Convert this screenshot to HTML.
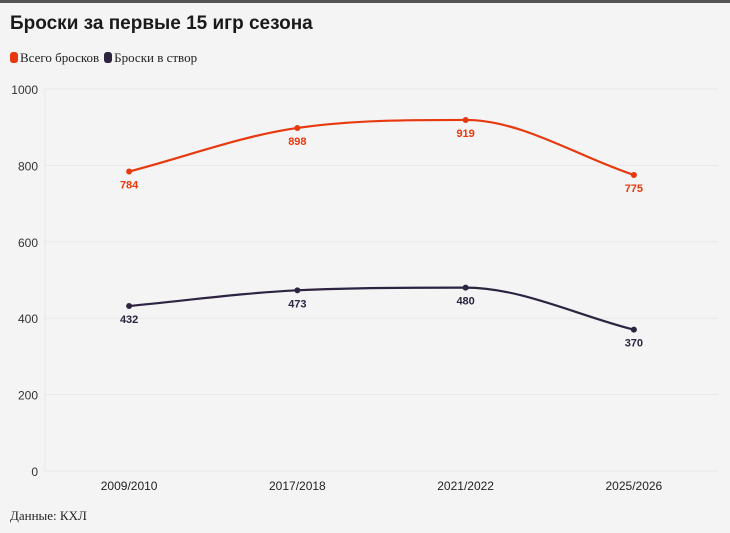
<!DOCTYPE html>
<html><head><meta charset="utf-8"><style>
body{margin:0;background:#f4f4f4;width:730px;height:533px;overflow:hidden;font-family:"Liberation Sans",sans-serif}
#topbar{position:absolute;left:0;top:0;width:730px;height:3px;background:#555}
#title{position:absolute;left:10px;top:13px;font-size:19px;font-weight:bold;color:#1a1a1a}
#legend{position:absolute;left:10px;top:50px;font-family:"Liberation Serif",serif;font-size:13px;color:#222;display:flex;gap:5px}
.sw{display:inline-block;width:8px;height:11px;border-radius:3px;vertical-align:-1px;margin-right:2px}
#source{position:absolute;left:10px;top:508px;font-family:"Liberation Serif",serif;font-size:13px;color:#222}
svg{position:absolute;left:0;top:0}
</style></head><body>
<div id="topbar"></div>
<div id="title">Броски за первые 15 игр сезона</div>
<div id="legend">
<span><span class="sw" style="background:#e8380d"></span>Всего бросков</span>
<span><span class="sw" style="background:#2c2440"></span>Броски в створ</span>
</div>
<div id="source">Данные: КХЛ</div>
<svg id="chart" width="730" height="533"></svg>
<script>
const categories=["2009/2010","2017/2018","2021/2022","2025/2026"];
const totalShots=[784,898,919,775];
const onTarget=[432,473,480,370];
const yTicks=[0,200,400,600,800,1000];
const NS="http://www.w3.org/2000/svg";
const svg=document.getElementById('chart');
const L=45,R=718,T=89,B=471;
const x=i=>L+(R-L)/categories.length*(i+0.5);
const y=v=>B-(B-T)*v/1000;
function mk(t,a,p){const e=document.createElementNS(NS,t);for(const k in a)e.setAttribute(k,a[k]);(p||svg).appendChild(e);return e;}
yTicks.forEach(t=>{
 const g=mk('line',{x1:L,x2:R,y1:y(t),y2:y(t),stroke:'#e8e8e8','stroke-width':1});
 
 
 const tx=mk('text',{x:38,y:y(t)+5,'text-anchor':'end','font-size':12,fill:'#333'});tx.textContent=t;
 
 
});
const ax=mk('line',{x1:L,x2:L,y1:T,y2:B,stroke:'#e8e8e8'});


categories.forEach((c,i)=>{
 const tx=mk('text',{x:x(i),y:490,'text-anchor':'middle','font-size':12,fill:'#222'});tx.textContent=c;
 
 
});
function monotone(pts){
 const n=pts.length,d=[],m=[];
 for(let i=0;i<n-1;i++)d.push((pts[i+1][1]-pts[i][1])/(pts[i+1][0]-pts[i][0]));
 for(let i=0;i<n;i++){
  if(i==0)m.push(d[0]);else if(i==n-1)m.push(d[n-2]);
  else m.push(d[i-1]*d[i]<=0?0:(d[i-1]+d[i])/2);
 }
 for(let i=0;i<n-1;i++){if(d[i]===0){m[i]=m[i+1]=0;continue;}const a=m[i]/d[i],b=m[i+1]/d[i],s=a*a+b*b;if(s>9){const t=3/Math.sqrt(s);m[i]=t*a*d[i];m[i+1]=t*b*d[i];}}
 let p='M'+pts[0][0]+','+pts[0][1];
 for(let i=0;i<n-1;i++){const h=(pts[i+1][0]-pts[i][0])/3;
  p+=`C${pts[i][0]+h},${pts[i][1]+m[i]*h} ${pts[i+1][0]-h},${pts[i+1][1]-m[i+1]*h} ${pts[i+1][0]},${pts[i+1][1]}`;}
 return p;
}
function series(vals,color,name){
 const pts=vals.map((v,i)=>[x(i),y(v)]);
 const p=mk('path',{d:monotone(pts),fill:'none',stroke:color,'stroke-width':2.2});
 
 
 vals.forEach((v,i)=>{
  const c=mk('circle',{cx:x(i),cy:y(v),r:3,fill:color});
  
  
  const t=mk('text',{x:x(i),y:y(v)+17,'text-anchor':'middle','font-size':11,'font-weight':'bold',fill:color});t.textContent=v;
  
  
 });
}
series(totalShots,'#e8380d','total-shots');
series(onTarget,'#2c2440','shots-on-target');
</script>
</body></html>
